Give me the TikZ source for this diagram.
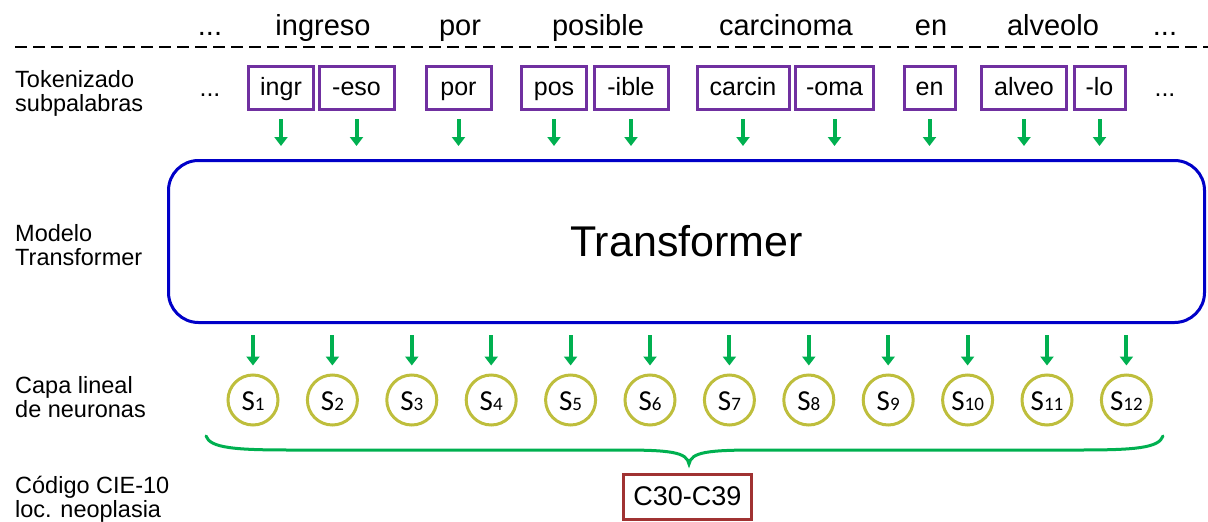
\documentclass[tikz,border=0pt]{standalone}
\usepackage{fontspec}
\setmainfont{Liberation Sans}
\newfontfamily\sfont{Carlito}
\usetikzlibrary{arrows.meta}
\definecolor{tokpurple}{RGB}{112,48,160}
\definecolor{arrgreen}{RGB}{0,176,80}
\definecolor{tfblue}{RGB}{0,0,200}
\definecolor{circolive}{RGB}{190,190,60}
\definecolor{codered}{RGB}{160,50,50}
\begin{document}
\begin{tikzpicture}[x=1pt,y=-1pt,
  word/.style={inner sep=0pt, anchor=base, font=\fontsize{29}{31}\selectfont},
  lbl/.style={inner sep=0pt, anchor=base west, font=\fontsize{23.5}{24}\selectfont},
  tok/.style={draw=tokpurple, line width=3pt, minimum height=43.5pt, text height=19pt, text depth=5pt, inner xsep=0pt, inner ysep=9.75pt, font=\fontsize{25}{27}\selectfont},
  arr/.style={draw=arrgreen, line width=4pt, -{Triangle[width=13pt,length=9pt]}},
  neuron/.style={circle, draw=circolive, line width=3pt, minimum size=50pt, inner sep=0pt},
  nlab/.style={inner sep=0pt, anchor=base, font=\sfont\fontsize{29}{31}\selectfont},
  codebox/.style={draw=codered, line width=3pt, minimum width=128pt, minimum height=45pt, inner sep=0pt, font=\fontsize{27}{29}\selectfont},
]
\useasboundingbox (0,0) rectangle (1208,522);
% top words
\node[word] (w0) at (210,35) {...};
\node[word] (w1) at (323,35) {ingreso};
\node[word] (w2) at (460,35) {por};
\node[word] (w3) at (598,35) {posible};
\node[word] (w4) at (786,35) {carcinoma};
\node[word] (w5) at (931,35) {en};
\node[word] (w6) at (1053,35) {alveolo};
\node[word] (w7) at (1165,35) {...};
\coordinate (dl) at (15,47);
\coordinate (dr) at (1208,47);
\draw[line width=1.5pt, dash pattern=on 12pt off 6pt] (dl) -- (dr);
% left labels
\node[lbl] (l1a) at (15,87.5) {Tokenizado};
\node[lbl] (l1b) at (15,111) {subpalabras};
\node[lbl] (l2a) at (15,241) {Modelo};
\node[lbl] (l2b) at (15,265) {Transformer};
\node[lbl] (l3a) at (15,393) {Capa lineal};
\node[lbl] (l3b) at (15,417) {de neuronas};
\node[lbl] (l4a) at (15,493) {Código CIE-10};
\node[lbl] (l4b) at (15,517) {loc. neoplasia};
% tokens
\node[word, font=\fontsize{25}{27}\selectfont] (d0) at (210,96) {...};
\node[word, font=\fontsize{25}{27}\selectfont] (d1) at (1165,96) {...};
\node[tok, minimum width=65pt] (t1) at (281,88) {ingr};
\node[tok, minimum width=75pt] (t2) at (356.5,88) {-eso};
\node[tok, minimum width=65pt] (t3) at (458.5,88) {por};
\node[tok, minimum width=65pt] (t4) at (554,88) {pos};
\node[tok, minimum width=74pt] (t5) at (631,88) {-ible};
\node[tok, minimum width=92pt] (t6) at (743,88) {carcin};
\node[tok, minimum width=78pt] (t7) at (834.5,88) {-oma};
\node[tok, minimum width=51pt] (t8) at (929.5,88) {en};
\node[tok, minimum width=85pt] (t9) at (1024,88) {alveo};
\node[tok, minimum width=51pt] (t10) at (1099.5,88) {-lo};
% transformer
\node[draw=tfblue, line width=3pt, rounded corners=30pt, minimum width=1036pt, minimum height=162pt, inner sep=0pt, font=\fontsize{43}{46}\selectfont] (T) at (686.5,241.5) {Transformer};
\foreach \i in {1,...,10}{
  \draw[arr, shorten <=8pt, shorten >=13pt] (t\i.south) -- (t\i.south |- T.north);
}
% neurons
\foreach \i in {1,...,12}{
  \node[neuron] (s\i) at ({253+79.4*(\i-1)},400) {};
  \node[nlab] (n\i) at ([yshift=-10pt]s\i.center) {S{\fontsize{19}{20}\selectfont\i}};
  \draw[arr, shorten <=11pt, shorten >=8pt] (s\i.north |- T.south) -- (s\i.north);
}
% brace
\coordinate (bl) at (206,436);
\coordinate (br) at (1163,436);
\coordinate (bt) at (689,464);
\draw[draw=arrgreen, line width=3pt, line cap=round]
  (bl) .. controls (210,448) and (235,450) .. (290,450) -- (620,450)
  .. controls (670,450) and (687,452) .. (bt)
  .. controls (691,452) and (708,450) .. (758,450) -- (1080,450)
  .. controls (1135,450) and (1159,448) .. (br);
\node[codebox] (C) at (687.5,496.5) {C30-C39};
\end{tikzpicture}
\end{document}
